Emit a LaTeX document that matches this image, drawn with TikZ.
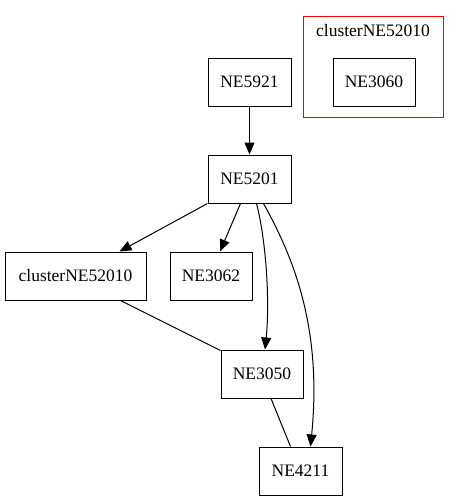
\documentclass[tikz,border=0pt]{standalone}
\usepackage{fontspec}
\setmainfont{Liberation Serif}
\usetikzlibrary{arrows.meta,calc}
\begin{document}
\begin{tikzpicture}[x=1pt,y=-1pt,
  lbl/.style={font=\rmfamily\fontsize{17.5}{21}\selectfont},
  box/.style={lbl,draw,line width=1pt,minimum height=48pt,inner sep=0pt},
  edge/.style={line width=1pt},
  arr/.style={edge,-{Triangle[length=12pt,width=10pt]}}]
\useasboundingbox (0,0) rectangle (459,501);
\fill[white] (0,0) rectangle (459,501);
% cluster
\draw[red,line width=1pt] (303,16) rectangle (443,117);
\node[lbl] (clab) at (373,31) {clusterNE52010};
\node[box,minimum width=82pt] (NE3060) at (374,82) {NE3060};
% nodes
\node[box,minimum width=83pt] (NE5921) at (249.5,82) {NE5921};
\node[box,minimum width=83pt] (NE5201) at (249.5,179) {NE5201};
\node[box,minimum width=141pt] (cl) at (75.5,276) {clusterNE52010};
\node[box,minimum width=82pt] (NE3062) at (211,276) {NE3062};
\node[box,minimum width=82pt] (NE3050) at (262,374) {NE3050};
\node[box,minimum width=83pt] (NE4211) at (300.5,471) {NE4211};
% edges
\draw[arr] (NE5921.south) -- (NE5201.north);
\draw[arr] (NE5201.south west) -- ($(cl.north)+(44,0)$);
\draw[arr] ($(NE5201.south)+(-9,0)$) -- ($(NE3062.north)+(9,0)$);
\draw[arr] ($(NE5201.south)+(7,0)$) .. controls (266,240) and (270,300) .. ($(NE3050.north)+(3,0)$);
\draw[arr] ($(NE5201.south)+(14,0)$) .. controls (295,260) and (322,330) .. ($(NE4211.north)+(10,0)$);
\draw[edge] ($(cl.south)+(45,0)$) -- ($(NE3050.north west)+(0,1)$);
\draw[edge] ($(NE3050.south)+(9,0)$) -- ($(NE4211.north)+(-10,0)$);
\end{tikzpicture}
\end{document}
